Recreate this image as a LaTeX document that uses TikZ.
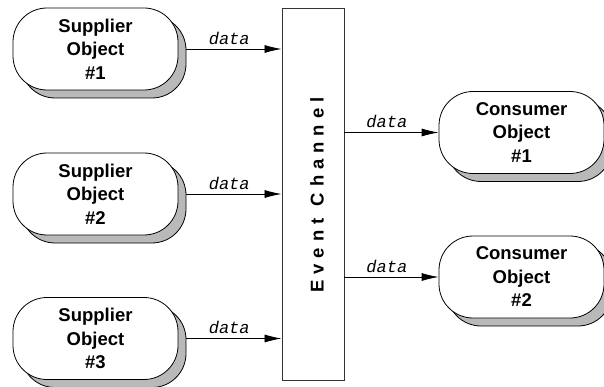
\documentclass[tikz,border=0pt]{standalone}
\usepackage{fontspec}
\setmainfont{Liberation Sans}
\setmonofont{Liberation Mono}
\usetikzlibrary{arrows.meta,shadows}
\def\ls{\kern6pt}
\begin{document}
\begin{tikzpicture}[x=1pt,y=-1pt,
  obj/.style={draw=black, line width=0.8pt, fill=white, rounded corners=34pt,
    minimum width=165pt, minimum height=82pt, inner sep=0pt, align=center,
    font=\fontsize{18.5}{23.5}\selectfont\bfseries,
    copy shadow={shadow xshift=8pt, shadow yshift=-8pt, fill=gray!55, draw=black, line width=0.8pt}},
  chan/.style={draw=black!80, line width=0.9pt, minimum width=62pt, minimum height=372pt, inner sep=0pt},
  arr/.style={draw=black, line width=0.8pt, -{Latex[length=17pt,width=8pt]}},
  lbl/.style={anchor=south, inner sep=4pt, font=\fontsize{17}{17}\selectfont\ttfamily\itshape},
  chlbl/.style={rotate=90, inner sep=0pt, font=\fontsize{18.5}{18.5}\selectfont\bfseries}]
\useasboundingbox (0,0) rectangle (604,387);
\node[chan] (ch) at (313,194) {};
\node[chlbl] (chl) at (317,195) {E\ls v\ls e\ls n\ls t\ls\space\ls C\ls h\ls a\ls n\ls n\ls e\ls l};
\node[obj] (s1) at (95.5,49) {Supplier\\Object\\\#1};
\node[obj] (s2) at (95.5,194) {Supplier\\Object\\\#2};
\node[obj] (s3) at (95.5,338.5) {Supplier\\Object\\\#3};
\node[obj] (c1) at (521.5,132.5) {Consumer\\Object\\\#1};
\node[obj] (c2) at (521.5,277) {Consumer\\Object\\\#2};
\draw[arr] ([xshift=8pt]s1.east) -- (s1.east -| ch.west) node[lbl, pos=0.45] {data};
\draw[arr] ([xshift=8pt]s2.east) -- (s2.east -| ch.west) node[lbl, pos=0.45] {data};
\draw[arr] ([xshift=8pt]s3.east) -- (s3.east -| ch.west) node[lbl, pos=0.45] {data};
\draw[arr] (c1.west -| ch.east) -- (c1.west) node[lbl, pos=0.45] {data};
\draw[arr] (c2.west -| ch.east) -- (c2.west) node[lbl, pos=0.45] {data};
\end{tikzpicture}
\end{document}
